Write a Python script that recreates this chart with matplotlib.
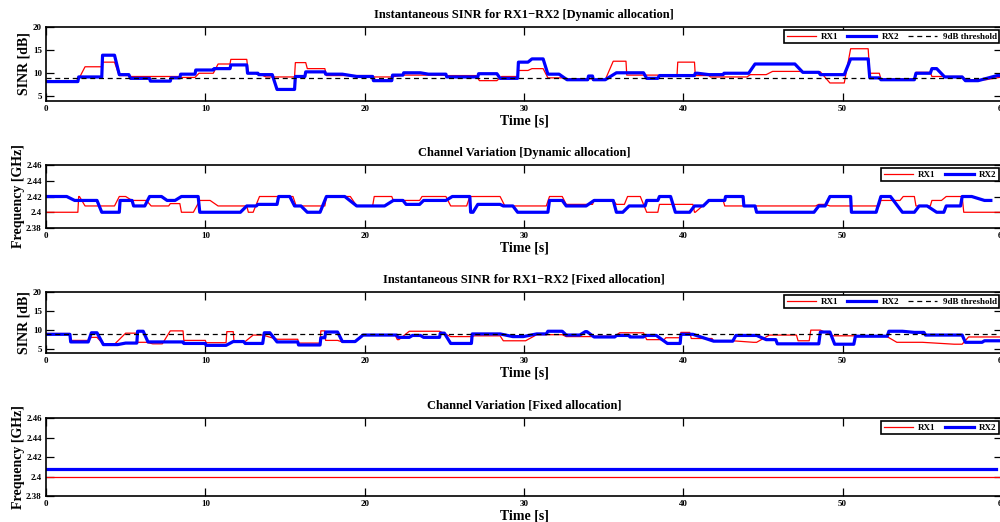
import numpy as np
import matplotlib
matplotlib.use('Agg')
import matplotlib.pyplot as plt
from matplotlib.ticker import FormatStrFormatter

plt.rcParams['font.family'] = ['Liberation Serif', 'DejaVu Serif']
plt.rcParams['font.weight'] = 'bold'

# segments: (start time, end time, value) for each series
dyn_sinr_rx1 = [
    (0, 2.0, 8.4), (2.45, 3.5, 11.4), (3.55, 4.3, 12.4), (4.6, 5.2, 9.5), (5.3, 8.4, 9.3),
    (8.45, 9.35, 9.1), (9.6, 10.5, 10.0), (10.8, 11.55, 12.0), (11.6, 12.6, 13.0), (12.7, 13.3, 10.0),
    (13.8, 15.6, 9.2), (15.65, 16.3, 12.3), (16.4, 17.5, 11.0), (17.6, 20.5, 9.5), (20.55, 21.7, 9.2),
    (22.4, 25.1, 9.6), (25.15, 27.0, 9.5), (27.2, 28.3, 8.4), (28.6, 29.6, 9.3), (29.65, 30.25, 10.6),
    (30.5, 31.2, 11.0), (31.5, 32.4, 9.0), (32.7, 34.3, 8.8), (34.35, 35.1, 8.6), (35.6, 36.4, 12.6),
    (36.45, 38.4, 9.6), (38.5, 39.6, 9.3), (39.65, 40.7, 12.4), (40.75, 41.6, 9.5), (41.7, 44.0, 9.2),
    (44.2, 45.2, 9.7), (45.6, 47.3, 10.4), (47.5, 48.6, 10.3), (49.2, 50.1, 7.9), (50.5, 51.6, 15.3),
    (51.7, 52.3, 10.0), (52.4, 54.5, 8.8), (54.6, 55.5, 10.2), (55.6, 57.5, 9.3), (57.7, 59.0, 8.6),
    (60.0, 60.0, 9.2),
]
dyn_sinr_rx2 = [
    (0, 2.0, 8.2), (2.05, 3.5, 9.2), (3.55, 4.3, 13.9), (4.6, 5.2, 9.7), (5.3, 6.5, 8.9),
    (6.55, 7.8, 8.3), (7.85, 8.4, 9.0), (8.45, 9.35, 9.8), (9.4, 10.5, 10.7), (10.55, 11.55, 11.0),
    (11.6, 12.6, 11.8), (12.65, 13.3, 10.0), (13.35, 14.2, 9.7), (14.5, 15.6, 6.5), (15.65, 16.25, 9.3),
    (16.3, 17.5, 10.3), (17.55, 18.6, 9.8), (19.5, 20.5, 9.3), (20.55, 21.7, 8.4), (21.75, 22.4, 9.6),
    (22.45, 23.5, 10.1), (24.0, 25.1, 9.8), (25.15, 27.1, 9.2), (27.15, 28.3, 9.9), (28.5, 29.6, 8.9),
    (29.65, 30.25, 12.4), (30.5, 31.2, 13.1), (31.5, 32.2, 9.8), (32.7, 34.0, 8.6), (34.05, 34.3, 9.4),
    (34.35, 35.1, 8.6), (35.8, 37.5, 10.1), (37.7, 38.4, 8.9), (38.5, 40.7, 9.5), (40.75, 40.9, 10.0),
    (41.6, 42.5, 9.7), (42.55, 44.1, 10.0), (44.5, 47.0, 12.0), (47.5, 48.5, 10.2), (48.6, 50.1, 9.7),
    (50.5, 51.6, 13.1), (51.7, 52.3, 9.0), (52.4, 54.5, 8.6), (54.6, 55.5, 10.0), (55.6, 55.9, 11.0),
    (56.4, 57.5, 9.2), (57.7, 58.5, 8.4), (59.7, 60.0, 9.5),
]

dyn_freq_rx1 = [
    (0, 2.0, 2.40), (2.05, 2.1, 2.42), (2.45, 4.3, 2.408), (4.6, 5.0, 2.42), (5.4, 6.3, 2.415),
    (6.6, 7.7, 2.408), (7.8, 8.4, 2.411), (8.5, 9.25, 2.40), (9.65, 10.3, 2.415), (10.8, 12.6, 2.408),
    (12.7, 13.0, 2.40), (13.4, 15.5, 2.42), (15.7, 17.5, 2.408), (17.6, 19.1, 2.42), (19.5, 20.5, 2.408),
    (20.6, 21.7, 2.42), (21.8, 23.45, 2.415), (23.6, 25.1, 2.42), (25.4, 26.4, 2.408), (26.6, 28.5, 2.42),
    (28.8, 31.4, 2.408), (31.6, 32.4, 2.42), (32.65, 34.3, 2.41), (34.4, 35.6, 2.415), (35.8, 36.3, 2.41),
    (36.5, 37.3, 2.42), (37.7, 38.4, 2.40), (38.5, 40.6, 2.41), (40.7, 40.75, 2.40), (41.6, 42.5, 2.415),
    (42.6, 43.3, 2.408), (43.75, 48.3, 2.408), (48.5, 48.9, 2.41), (49.2, 52.3, 2.408), (52.4, 53.6, 2.415),
    (53.8, 54.5, 2.42), (54.6, 55.5, 2.408), (55.6, 56.2, 2.415), (56.5, 57.5, 2.42), (57.6, 59.9, 2.40),
]
dyn_freq_rx2 = [
    (0, 1.3, 2.42), (1.8, 3.2, 2.415), (3.5, 4.6, 2.40), (4.65, 5.4, 2.415), (5.5, 6.2, 2.408),
    (6.5, 7.25, 2.42), (7.6, 8.1, 2.415), (8.5, 9.55, 2.42), (9.65, 12.2, 2.40), (12.6, 13.2, 2.408),
    (13.3, 14.5, 2.41), (14.6, 15.3, 2.42), (15.6, 16.0, 2.408), (16.4, 17.2, 2.40), (17.6, 18.75, 2.42),
    (19.5, 21.25, 2.408), (21.8, 22.4, 2.415), (22.6, 23.45, 2.41), (23.7, 25.1, 2.415), (25.5, 26.6, 2.42),
    (26.65, 26.8, 2.40), (27.1, 28.5, 2.41), (28.7, 29.3, 2.408), (29.6, 31.5, 2.40), (31.6, 32.4, 2.415),
    (32.65, 33.9, 2.408), (34.4, 35.6, 2.415), (35.8, 36.2, 2.40), (36.6, 37.6, 2.408), (37.7, 38.4, 2.415),
    (38.5, 39.2, 2.42), (39.5, 40.4, 2.40), (40.7, 41.25, 2.408), (41.6, 42.6, 2.415), (42.65, 43.75, 2.42),
    (43.8, 44.5, 2.408), (44.6, 48.2, 2.40), (48.5, 48.9, 2.408), (49.2, 50.5, 2.42), (50.55, 52.1, 2.40),
    (52.4, 53.0, 2.42), (53.75, 54.5, 2.40), (54.8, 55.3, 2.408), (55.9, 56.35, 2.40), (56.5, 57.4, 2.408),
    (57.5, 58.1, 2.42), (58.9, 59.3, 2.415),
]

fix_sinr_rx1 = [
    (0, 1.5, 9.1), (1.55, 2.65, 7.3), (2.85, 3.2, 8.1), (3.6, 4.3, 6.3), (5.0, 5.7, 9.2),
    (5.75, 6.3, 6.8), (6.7, 7.3, 6.4), (7.8, 8.6, 9.8), (8.65, 10.0, 7.3), (10.05, 11.3, 6.7),
    (11.35, 11.75, 9.6), (11.8, 12.5, 7.0), (13.0, 13.6, 8.7), (14.5, 15.8, 7.6), (15.85, 17.2, 6.6),
    (17.25, 17.5, 9.8), (17.55, 18.3, 7.3), (18.6, 19.4, 6.9), (19.9, 21.9, 8.8), (22.05, 22.15, 7.5),
    (22.8, 24.7, 9.7), (25.4, 26.7, 8.3), (26.9, 28.5, 8.5), (28.7, 30.1, 7.2), (30.8, 32.4, 8.8),
    (32.65, 34.3, 8.3), (34.5, 35.7, 8.4), (36.0, 37.5, 9.3), (37.7, 38.8, 7.5), (38.9, 39.8, 8.0),
    (39.85, 40.4, 9.4), (40.5, 41.8, 7.8), (41.9, 43.1, 7.2), (44.4, 44.6, 6.8), (45.4, 47.1, 8.7),
    (47.2, 47.9, 7.2), (48.0, 48.6, 10.0), (49.4, 52.7, 8.5), (53.4, 55.0, 6.8), (57.0, 57.5, 6.3),
    (57.9, 60.0, 8.2),
]
fix_sinr_rx2 = [
    (0, 1.5, 8.9), (1.55, 2.65, 6.9), (2.85, 3.2, 9.3), (3.6, 4.5, 6.2), (5.0, 5.7, 6.6),
    (5.75, 6.1, 9.7), (6.4, 8.6, 6.9), (8.65, 10.0, 6.5), (10.05, 11.3, 6.0), (11.75, 12.4, 7.0),
    (12.5, 13.6, 6.5), (13.7, 14.05, 9.3), (14.5, 15.8, 6.9), (15.85, 17.2, 6.1), (17.25, 17.5, 8.0),
    (17.55, 18.3, 9.5), (18.6, 19.4, 7.0), (19.9, 22.0, 8.7), (22.1, 22.8, 8.1), (23.0, 23.5, 8.6),
    (23.7, 24.7, 8.1), (24.75, 25.0, 9.2), (25.4, 26.7, 6.5), (26.75, 28.5, 9.0), (29.3, 29.95, 8.3),
    (30.8, 31.4, 9.0), (31.5, 32.4, 9.7), (32.65, 33.5, 8.7), (33.85, 33.95, 9.6), (34.4, 35.7, 8.2),
    (35.8, 36.6, 8.6), (36.65, 37.5, 8.2), (37.6, 38.3, 8.6), (39.0, 39.8, 6.5), (39.85, 40.6, 8.9),
    (41.9, 43.1, 7.1), (43.3, 44.6, 8.6), (45.2, 45.8, 7.5), (45.9, 48.5, 6.4), (48.6, 49.2, 9.5),
    (49.5, 50.7, 6.3), (50.8, 52.8, 8.4), (52.9, 53.75, 9.7), (54.5, 55.1, 9.4), (55.2, 57.5, 8.7),
    (57.7, 58.75, 6.8), (58.9, 60.0, 7.2),
]

fix_freq_rx1 = [(0, 60.0, 2.40)]
fix_freq_rx2 = [(0, 59.6, 2.408)]

threshold_db = 9

titles = [
    'Instantaneous SINR for RX1\u2212RX2 [Dynamic allocation]',
    'Channel Variation [Dynamic allocation]',
    'Instantaneous SINR for RX1\u2212RX2 [Fixed allocation]',
    'Channel Variation [Fixed allocation]',
]


def to_line(segs):
    t, v = [], []
    for a, b, val in segs:
        t += [a, b]
        v += [val, val]
    return np.array(t), np.array(v)


fig = plt.figure(figsize=(10, 5.22), dpi=100)
# [left, bottom, width, height] measured from reference
boxes = [
    [0.046, 0.8065, 0.956, 0.1418],
    [0.046, 0.5632, 0.956, 0.1207],
    [0.046, 0.3238, 0.956, 0.1168],
    [0.046, 0.0498, 0.956, 0.1494],
]
panels = [
    (dyn_sinr_rx1, dyn_sinr_rx2, 'sinr'),
    (dyn_freq_rx1, dyn_freq_rx2, 'freq'),
    (fix_sinr_rx1, fix_sinr_rx2, 'sinr'),
    (fix_freq_rx1, fix_freq_rx2, 'freq'),
]

for box, (rx1, rx2, kind), title in zip(boxes, panels, titles):
    ax = fig.add_axes(box)
    t1, v1 = to_line(rx1)
    t2, v2 = to_line(rx2)
    ax.plot(t1, v1, color='#ff0000', lw=0.9, label='RX1')
    ax.plot(t2, v2, color='#0000ff', lw=2.3, label='RX2')
    if kind == 'sinr':
        ax.axhline(threshold_db, color='black', ls=(0, (4, 3)), lw=0.9, label='9dB threshold')
        ax.set_ylim(4, 20)
        ax.set_yticks([5, 10, 15, 20])
        ax.set_ylabel('SINR [dB]', fontsize=10, fontweight='bold', labelpad=2)
        ncol = 3
    else:
        ax.set_ylim(2.38, 2.46)
        ax.set_yticks([2.38, 2.40, 2.42, 2.44, 2.46])
        ax.yaxis.set_major_formatter(FormatStrFormatter('%g'))
        ax.set_ylabel('Frequency [GHz]', fontsize=10, fontweight='bold', labelpad=1)
        ncol = 2
    ax.set_xlim(0, 60)
    ax.set_xticks(range(0, 61, 10))
    ax.set_xlabel('Time [s]', fontsize=10, fontweight='bold', labelpad=1)
    ax.set_title(title, fontsize=9, fontweight='bold', pad=6.5)
    ax.tick_params(direction='in', top=True, right=True, length=6, width=0.9,
                   labelsize=6.5, pad=3)
    for lab in ax.get_xticklabels() + ax.get_yticklabels():
        lab.set_fontweight('bold')
    for sp in ax.spines.values():
        sp.set_linewidth(1.2)
    leg = ax.legend(loc='upper right', ncol=ncol, fontsize=6.5, frameon=True, fancybox=False,
                    edgecolor='black', framealpha=1, handlelength=3.2, columnspacing=1.0,
                    handletextpad=0.6, borderpad=0.3, borderaxespad=0.3)
    leg.get_frame().set_linewidth(1.2)
    for txt in leg.get_texts():
        txt.set_fontweight('bold')

fig.savefig('out.png', dpi=100)
